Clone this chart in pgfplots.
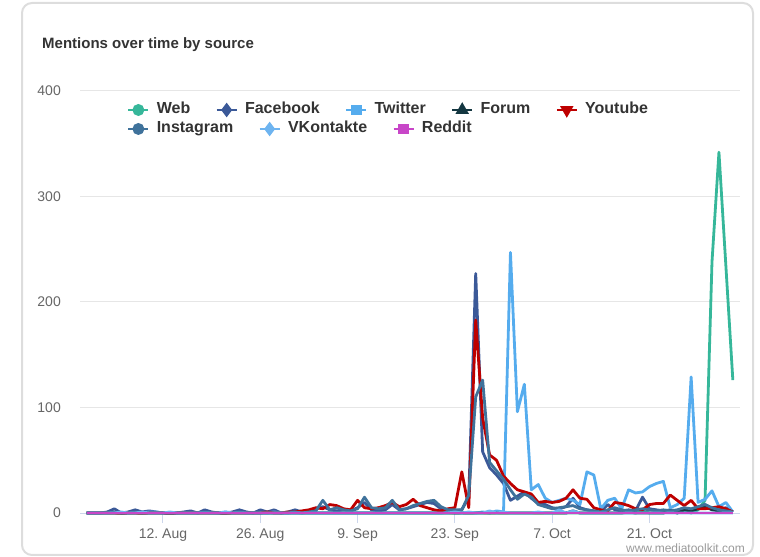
\documentclass[border=0pt]{standalone}
\usepackage{fontspec}
\setmainfont{Liberation Sans}
\usepackage{pgfplots}
\usepackage{pgfplotstable}
\pgfplotsset{compat=1.18}
\definecolor{webc}{RGB}{54,183,154}
\definecolor{fbc}{RGB}{59,89,152}
\definecolor{twc}{RGB}{85,172,238}
\definecolor{foc}{RGB}{20,55,65}
\definecolor{ytc}{RGB}{190,0,0}
\definecolor{igc}{RGB}{63,114,155}
\definecolor{vkc}{RGB}{110,180,240}
\definecolor{rdc}{RGB}{200,70,200}
\definecolor{bordc}{HTML}{DDDDDD}
\definecolor{titlec}{HTML}{333333}
\definecolor{tickc}{HTML}{666666}
\definecolor{axisc}{HTML}{CCD6EB}
\definecolor{gridc}{HTML}{E6E6E6}
\definecolor{wmc}{HTML}{999999}

\pgfplotstableread{
d web fb tw fo yt ig vk rd
0 0 0 0 0 0 0 0 0
1 0 0 0 0 0 0 0 0
2 0 0 0 0 0 0 0 0
3 0 1 0 0 0 0 0 0
4 0 4 0 0 0 1 0 0
5 0 0 0 0 0 0 1 0
6 0 1 0 0 0 0 0 0
7 0 3 0 0 0 1 0 0
8 0 1 0 0 0 0 1 0
9 0 2 1 0 0 0 0 0
10 0 1 1 0 0 0 0 0
11 0 0 0 0 0 0 0 0
12 0 0 0 0 0 0 1 0
13 0 0 0 0 0 0 0 0
14 0 1 0 0 0 0 0 0
15 0 2 0 0 0 0 0 0
16 0 0 0 0 0 0 0 0
17 0 3 0 0 0 1 0 0
18 0 1 0 0 0 0 0 0
19 0 0 0 0 0 0 0 0
20 0 0 1 0 0 0 1 0
21 0 1 0 0 0 0 0 0
22 0 3 0 0 0 1 0 0
23 0 1 0 0 0 0 0 0
24 0 0 0 0 0 0 0 0
25 0 3 0 0 0 0 0 0
26 0 1 0 0 1 0 0 0
27 0 3 1 0 0 0 0 0
28 0 0 0 0 0 0 0 0
29 0 1 0 0 1 0 0 0
30 0 3 0 0 1 1 0 0
31 0 1 0 0 2 0 0 0
32 0 2 0 0 3 1 0 0
33 0 4 0 0 5 2 0 0
34 0 6 0 0 4 12 0 0
35 0 3 0 0 8 3 0 0
36 0 2 0 0 7 5 0 0
37 0 3 0 0 4 3 0 0
38 0 2 0 0 3 2 0 0
39 0 5 0 0 12 4 0 0
40 0 10 0 0 5 15 0 0
41 0 3 0 0 4 5 0 0
42 0 2 0 0 5 4 0 0
43 0 3 0 0 7 5 0 0
44 0 8 0 0 10 12 0 0
45 0 3 0 0 6 3 0 0
46 0 4 0 0 8 4 0 0
47 0 6 0 0 13 7 0 0
48 0 8 0 0 7 9 0 0
49 0 10 0 0 5 11 0 0
50 0 9 0 0 3 12 0 0
51 0 4 0 0 2 6 0 0
52 0 2 1 0 4 3 0 0
53 0 2 0 0 5 3 1 0
54 0 3 0 0 39 3 0 0
55 0 15 0 0 5 17 1 0
56 0 227 0 0 183 110 0 0
57 0 58 1 0 90 126 0 0
58 0 43 0 0 55 48 2 0
59 0 36 2 0 50 40 0 0
60 0 28 1 0 35 32 1 0
61 0 12 247 0 28 22 0 0
62 0 16 96 0 22 13 0 0
63 0 20 122 0 20 18 0 0
64 0 14 22 0 18 15 0 0
65 0 9 27 0 10 8 1 0
66 0 8 14 0 11 6 0 0
67 0 5 10 0 10 4 0 0
68 0 4 12 0 11 5 3 0
69 0 6 14 0 14 6 0 0
70 0 14 12 2 22 7 2 0
71 0 5 8 0 14 4 0 0
72 0 3 39 0 13 3 0 0
73 0 2 36 0 5 2 0 0
74 0 1 4 0 3 1 0 0
75 0 8 12 0 2 3 0 0
76 0 3 14 0 10 5 0 0
77 0 2 4 0 9 3 0 0
78 0 3 22 1 7 2 0 0
79 0 2 19 0 4 3 0 0
80 2 15 20 0 3 4 0 0
81 0 4 25 0 8 3 0 0
82 0 3 28 0 9 2 0 0
83 0 2 30 0 9 3 0 0
84 3 3 5 2 17 2 0 0
85 0 2 8 0 12 3 0 0
86 2 4 14 3 7 5 0 0
87 0 3 129 2 12 4 0 0
88 3 5 10 4 4 6 0 0
89 12 8 13 6 4 8 0 0
90 238 4 21 3 5 5 0 0
91 342 3 6 2 6 3 0 0
92 234 5 10 3 4 2 0 0
93 126 1 1 1 1 1 0 0
}\datatab

\pgfplotsset{
  legstyle/.style={
    legend image code/.code={\draw[mark repeat=2,mark phase=2,##1] plot coordinates {(0bp,0bp) (10bp,0bp) (20bp,0bp)};},
    legend style={draw=none, fill=none, inner sep=0pt, outer sep=0pt,
      font=\bfseries\fontsize{16bp}{18bp}\selectfont, text=titlec,
      nodes={inner sep=0pt, text height=11.5bp, text depth=3.5bp},
      /tikz/every odd column/.append style={column sep=7bp},
      /tikz/every even column/.append style={column sep=25bp}},
  },
  base/.style={
    at={(80bp,44bp)}, anchor=south west,
    width=660bp, height=422bp, scale only axis,
    xmin=-0.94, xmax=94.03, ymin=0, ymax=400,
  },
  ser/.style={line width=2.8bp, line join=round, forget plot},
  leg/.style={line width=2.8bp, mark options={solid}},
}

\begin{document}
\begin{tikzpicture}
\useasboundingbox (0bp,0bp) rectangle (760bp,557bp);
\draw[line width=2bp, color=bordc, rounded corners=10bp] (22bp,2bp) rectangle (753bp,554bp);
\node[anchor=base west, inner sep=0pt, font=\bfseries\fontsize{15bp}{18bp}\selectfont, text=titlec] at (42bp,508bp) {Mentions over time by source};
\node[anchor=base east, inner sep=0pt, font=\fontsize{12bp}{14bp}\selectfont, text=wmc] at (745bp,5bp) {www.mediatoolkit.com};

\begin{axis}[base, legstyle,
  clip=false,
  axis x line*=bottom, axis y line*=left,
  y axis line style={draw=none},
  x axis line style={color=axisc, line width=1bp},
  ytick={0,100,200,300,400},
  xtick={11,25,39,53,67,81},
  xticklabels={12.\ Aug,26.\ Aug,9.\ Sep,23.\ Sep,7.\ Oct,21.\ Oct},
  ytick style={draw=none},
  xtick style={color=axisc, line width=1bp},
  tick align=outside, major tick length=10bp,
  ymajorgrids, major grid style={color=gridc, line width=1bp},
  /pgf/number format/assume math mode=true,
  tick label style={font=\fontsize{14bp}{16bp}\selectfont, text=tickc},
  yticklabel style={anchor=east, inner sep=0pt, xshift=-9bp},
  xticklabel style={anchor=base, inner sep=0pt, yshift=-15bp},
  legend columns=5,
  legend style={at={(0.0712,0.955)}, anchor=west},
]
\addlegendimage{leg, webc, mark=*, mark size=4.5bp}
\addlegendimage{leg, fbc, mark=diamond*, mark size=5bp}
\addlegendimage{leg, twc, mark=square*, mark size=4bp}
\addlegendimage{leg, foc, mark=triangle*, mark size=5bp}
\addlegendimage{leg, ytc, mark=triangle*, mark size=5bp, mark options={rotate=180}}
\legend{Web,Facebook,Twitter,Forum,Youtube}
\addplot[ser, webc] table[x=d,y=web]{\datatab};
\addplot[ser, fbc] table[x=d,y=fb]{\datatab};
\addplot[ser, twc] table[x=d,y=tw]{\datatab};
\addplot[ser, foc] table[x=d,y=fo]{\datatab};
\addplot[ser, ytc] table[x=d,y=yt]{\datatab};
\addplot[ser, igc] table[x=d,y=ig]{\datatab};
\addplot[ser, vkc] table[x=d,y=vk]{\datatab};
\addplot[ser, rdc] table[x=d,y=rd]{\datatab};
\end{axis}

\begin{axis}[base, legstyle, hide axis,
  legend columns=3,
  legend style={at={(0.0712,0.910)}, anchor=west},
]
\addlegendimage{leg, igc, mark=*, mark size=4.5bp}
\addlegendimage{leg, vkc, mark=diamond*, mark size=5bp}
\addlegendimage{leg, rdc, mark=square*, mark size=4bp}
\legend{Instagram,VKontakte,Reddit}
\end{axis}
\end{tikzpicture}
\end{document}
